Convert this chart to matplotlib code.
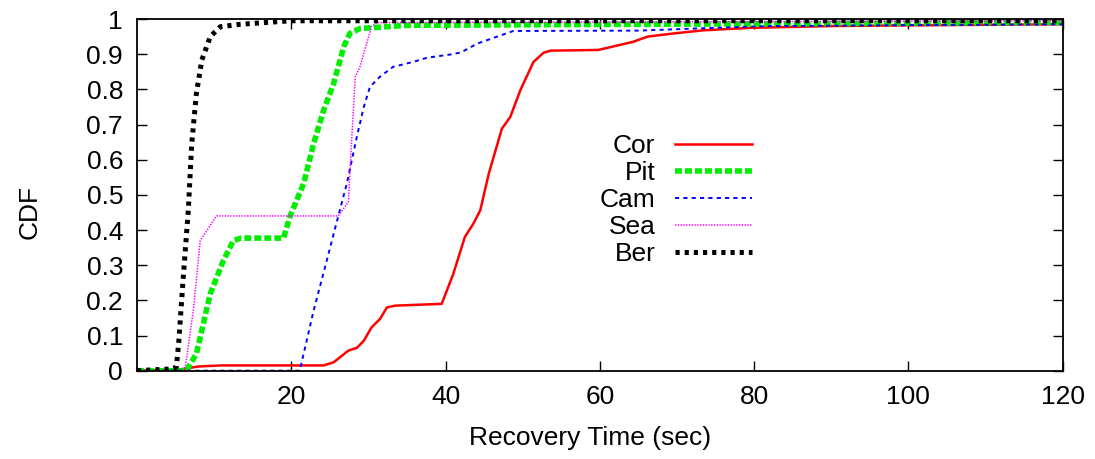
import matplotlib
matplotlib.use("Agg")
import matplotlib.pyplot as plt
from matplotlib.ticker import FormatStrFormatter

plt.rcParams['font.family'] = ['Liberation Sans', 'DejaVu Sans']
plt.rcParams['font.size'] = 19
plt.rcParams['lines.scale_dashes'] = False

# CDF curves (recovery time in sec, cumulative fraction)
cor_x = [0, 5, 6, 8, 11, 24.2, 25.5, 27.4, 28.5, 29.4, 30.4, 31.5, 32.4, 33.5, 39.5,
         41.0, 42.5, 43.6, 44.5, 45.6, 47.3, 48.4, 49.7, 51.4, 52.7, 53.6, 59.8, 64.3,
         66.2, 70, 73.5, 79.7, 90, 100, 120]
cor_y = [0, 0.002, 0.005, 0.012, 0.015, 0.015, 0.024, 0.057, 0.065, 0.085, 0.123, 0.147,
         0.18, 0.185, 0.19, 0.275, 0.38, 0.418, 0.456, 0.56, 0.688, 0.722, 0.798, 0.878,
         0.904, 0.91, 0.912, 0.935, 0.95, 0.96, 0.968, 0.975, 0.98, 0.982, 0.985]

pit_x = [0, 6.4, 7.7, 9.5, 11.2, 12.5, 13.5, 19.0, 19.8, 21.6, 22.9, 24.2, 25.5, 26.8,
         27.6, 28.9, 35, 120]
pit_y = [0, 0, 0.048, 0.219, 0.313, 0.37, 0.377, 0.377, 0.437, 0.532, 0.646, 0.741,
         0.817, 0.921, 0.959, 0.973, 0.982, 0.99]

cam_x = [0, 21.1, 22.9, 24.6, 26.1, 27.2, 28.5, 29.4, 30.2, 31.5, 33.2, 35.8, 37.6,
         40.6, 42, 44.1, 46.7, 48.8, 65, 75, 82, 120]
cam_y = [0, 0, 0.171, 0.313, 0.44, 0.532, 0.665, 0.75, 0.807, 0.836, 0.864, 0.878,
         0.89, 0.899, 0.905, 0.93, 0.95, 0.966, 0.967, 0.975, 0.98, 0.985]

sea_x = [0, 6.2, 7.3, 8.2, 10.3, 26.1, 27.4, 27.8, 28.3, 28.9, 30.4, 31.1, 120]
sea_y = [0, 0, 0.171, 0.37, 0.44, 0.44, 0.48, 0.646, 0.836, 0.864, 0.978, 0.99, 0.995]

ber_x = [0, 4.5, 5.1, 5.4, 6.0, 6.65, 7.1, 7.7, 8.4, 9.5, 10.8, 13.4, 20, 120]
ber_y = [0, 0.005, 0.01, 0.077, 0.266, 0.456, 0.646, 0.788, 0.883, 0.95, 0.978,
         0.985, 0.995, 0.995]

x_ticks = [20, 40, 60, 80, 100, 120]
y_ticks = [0, 0.1, 0.2, 0.3, 0.4, 0.5, 0.6, 0.7, 0.8, 0.9, 1]

fig = plt.figure(figsize=(10.95, 4.59), dpi=100)
ax = fig.add_axes([0.1251, 0.1924, 0.8454, 0.7662])

ax.plot(cor_x, cor_y, color='#ff0000', lw=1.8, label='Cor')
ax.plot(pit_x, pit_y, color='#00ee00', lw=4.0, dashes=(5, 2.2), label='Pit')
ax.plot(cam_x, cam_y, color='#0000ff', lw=1.4, dashes=(3, 3), label='Cam')
ax.plot(sea_x, sea_y, color='#ff00ff', lw=1.1, dashes=(1, 1), label='Sea')
ax.plot(ber_x, ber_y, color='#000000', lw=3.6, dashes=(3, 3.6), label='Ber')

ax.set_xlim(0, 120)
ax.set_ylim(0, 1)
ax.set_xticks(x_ticks)
ax.set_yticks(y_ticks)
ax.yaxis.set_major_formatter(FormatStrFormatter('%g'))
ax.tick_params(direction='in', length=7, width=1, top=True, right=True)
ax.tick_params(axis='x', pad=10)
ax.tick_params(axis='y', pad=10)
for s in ax.spines.values():
    s.set_linewidth(1.3)

ax.set_xlabel('Recovery Time (sec)')
ax.set_ylabel('CDF')
ax.xaxis.set_label_coords(0.489, -0.191)
ax.xaxis.label.set_va('center')
ax.yaxis.set_label_coords(-0.1156, 0.451)
ax.yaxis.label.set_va('center')

ax.legend(loc='center', bbox_to_anchor=(0.582, 0.485), frameon=False, markerfirst=False,
          handlelength=2.9, labelspacing=0.12, handletextpad=0.75, borderpad=0)

fig.savefig('out.png', dpi=100)
